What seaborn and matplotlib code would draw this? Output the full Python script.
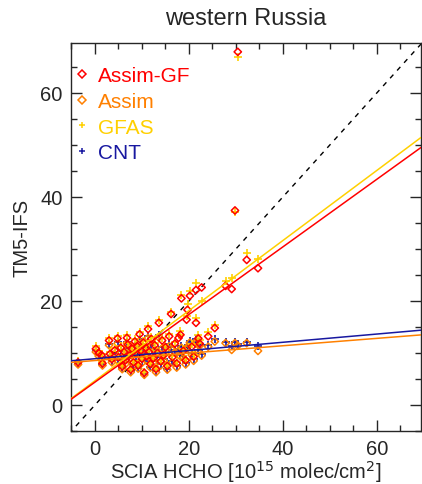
import matplotlib
matplotlib.use("Agg")
import matplotlib.pyplot as plt
import numpy as np
import pandas as pd
import seaborn as sns
from matplotlib.lines import Line2D
from matplotlib.ticker import MultipleLocator

sns.set_style("ticks")
plt.rcParams["font.family"] = ["Liberation Sans", "DejaVu Sans"]

# SCIA HCHO columns and the co-located model values
scia = [-3.6, 0.2, 0.8, 1.4, 1.6, 3.0, 3.2, 3.6, 4.2, 4.8, 5.0, 5.5, 5.8, 6.2, 6.5,
        6.8, 7.0, 7.3, 7.6, 7.9, 8.2, 8.5, 8.7, 9.0, 9.2, 9.5, 9.8, 10.0, 10.3, 10.5,
        10.8, 11.0, 11.3, 11.5, 11.8, 12.0, 12.4, 12.7, 13.0, 13.3, 13.6, 14.0, 14.3,
        14.6, 15.0, 15.4, 15.8, 16.2, 16.5, 17.0, 17.4, 17.8, 18.2, 18.4, 18.8, 19.3,
        19.5, 19.7, 20.2, 20.6, 21.0, 21.5, 21.5, 22.0, 22.3, 22.7, 24.1, 25.5, 27.8,
        29.1, 29.8, 30.4, 32.3, 34.7]
assim_gf = [8.2, 10.8, 10.0, 9.6, 8.0, 12.4, 9.8, 8.8, 10.5, 12.8, 9.2, 11.0, 7.4, 10.2, 8.6,
            12.9, 11.6, 9.5, 6.8, 10.8, 8.2, 12.2, 9.9, 11.3, 7.6, 13.6, 10.5, 8.9, 12.0, 6.2,
            11.0, 9.4, 14.6, 10.2, 7.9, 12.7, 9.0, 11.5, 6.9, 10.0, 15.8, 8.4, 12.4,
            9.6, 11.1, 7.5, 13.2, 17.5, 9.2, 11.8, 8.0, 12.9, 13.5, 20.5, 10.4, 8.6,
            16.4, 18.3, 21.0, 11.2, 9.3, 15.8, 22.1, 12.8, 11.8, 22.6, 13.2, 14.8, 22.9,
            22.3, 37.4, 67.9, 27.9, 26.3]
assim = [7.8, 10.2, 9.4, 8.9, 7.6, 11.5, 9.1, 8.2, 9.8, 11.8, 8.4, 10.1, 6.9, 9.5, 7.9,
         11.9, 10.7, 8.7, 6.3, 9.9, 7.5, 11.1, 9.0, 10.2, 7.0, 12.2, 9.5, 8.1, 10.8, 5.8,
         9.9, 8.5, 12.9, 9.2, 7.2, 11.3, 8.1, 10.3, 6.3, 9.0, 13.0, 7.6, 10.9,
         8.6, 9.9, 6.8, 11.3, 10.8, 8.2, 10.1, 7.2, 10.4, 9.3, 11.0, 9.0, 7.8,
         10.7, 11.2, 12.0, 9.6, 8.5, 11.8, 12.2, 10.2, 11.4, 9.5, 11.2, 12.2, 11.9,
         10.6, 11.9, 11.4, 11.9, 10.4]
gfas = [8.4, 11.3, 10.3, 9.9, 8.2, 12.9, 10.1, 9.0, 10.9, 13.2, 9.5, 11.3, 7.6, 10.6, 8.8,
        13.4, 12.0, 9.8, 7.0, 11.1, 8.4, 12.6, 10.2, 11.6, 7.8, 14.1, 10.8, 9.1, 12.4, 6.4,
        11.4, 9.7, 15.1, 10.5, 8.1, 13.1, 9.3, 11.9, 7.1, 10.3, 16.4, 8.6, 12.9,
        9.9, 11.5, 7.7, 13.7, 17.9, 9.5, 12.2, 8.3, 13.5, 14.2, 21.2, 10.8, 8.9,
        17.2, 19.4, 22.0, 11.7, 9.6, 16.8, 23.5, 13.4, 12.5, 20.0, 14.0, 15.3, 23.9,
        24.4, 37.2, 66.9, 29.2, 28.1]
cnt = [8.0, 10.5, 9.6, 9.2, 7.8, 11.8, 9.3, 8.5, 10.0, 12.1, 8.7, 10.4, 7.1, 9.8, 8.2,
       12.2, 11.0, 9.0, 6.5, 10.2, 7.8, 11.4, 9.3, 10.6, 7.2, 12.6, 9.8, 8.4, 11.1, 6.0,
       10.2, 8.8, 13.2, 9.5, 7.4, 11.6, 8.4, 10.6, 6.5, 9.3, 13.4, 7.9, 11.2,
       8.9, 10.2, 7.0, 11.7, 11.2, 8.5, 10.5, 7.5, 10.8, 9.6, 11.4, 9.4, 8.1,
       11.0, 11.6, 12.4, 10.0, 8.8, 12.2, 12.6, 10.6, 11.8, 9.9, 11.6, 12.6, 12.2,
       11.3, 12.2, 11.8, 12.2, 11.3]

series = ["Assim-GF", "Assim", "GFAS", "CNT"]
colors = {"Assim-GF": "#ff0000", "Assim": "#ff8000", "GFAS": "#ffd000", "CNT": "#1818a0"}
markers = {"Assim-GF": "D", "Assim": "D", "GFAS": "+", "CNT": "+"}
# linear fits (intercept, slope) as drawn in the figure
fit_intercept = {"Assim-GF": 4.4, "Assim": 8.55, "GFAS": 4.66, "CNT": 8.9}
fit_slope = {"Assim-GF": 0.65, "Assim": 0.071, "GFAS": 0.674, "CNT": 0.079}

df = pd.concat([
    pd.DataFrame({"scia": scia, "model": vals, "run": name})
    for name, vals in zip(series, [assim_gf, assim, gfas, cnt])
])

XLIM = (-5.1, 69.4)
YLIM = (-5.0, 69.6)

fig = plt.figure(figsize=(4.22, 4.85), dpi=100)
ax = fig.add_axes([71 / 422, 1 - 432 / 485, 350 / 422, 388 / 485])

# 1:1 line
ax.plot([-10, 80], [-10, 80], color="black", lw=1.0, ls=(0, (3.5, 4)), zorder=1)

for name in ["CNT", "Assim", "GFAS", "Assim-GF"]:
    sub = df[df["run"] == name]
    if markers[name] == "D":
        sns.scatterplot(data=sub, x="scia", y="model", marker="D", s=14,
                        facecolor="none", edgecolor=colors[name], linewidth=1.1,
                        ax=ax, zorder=3)
    else:
        sns.scatterplot(data=sub, x="scia", y="model", marker="+", s=32,
                        color=colors[name], linewidth=1.2, ax=ax, zorder=3)

for name in ["CNT", "Assim", "GFAS", "Assim-GF"]:
    xs = np.array(XLIM)
    sns.lineplot(x=xs, y=fit_intercept[name] + fit_slope[name] * xs,
                 color=colors[name], lw=1.1, ax=ax, zorder=4)

ax.set_xlim(*XLIM)
ax.set_ylim(*YLIM)
ax.xaxis.set_major_locator(MultipleLocator(20))
ax.yaxis.set_major_locator(MultipleLocator(20))
ax.xaxis.set_minor_locator(MultipleLocator(5))
ax.yaxis.set_minor_locator(MultipleLocator(5))
ax.tick_params(which="both", direction="in", top=True, right=True,
               width=1.0, labelsize=14.5, pad=6)
ax.tick_params(which="major", length=8)
ax.tick_params(which="minor", length=4)
for sp in ax.spines.values():
    sp.set_linewidth(1.0)

ax.set_xlabel(r"SCIA HCHO [10$^{15}$ molec/cm$^{2}$]", fontsize=14.5, labelpad=0)
ax.set_ylabel("TM5-IFS", fontsize=14.5, labelpad=6)
ax.set_title("western Russia", fontsize=17, pad=14)

handles = [Line2D([], [], ls="none", marker=markers[n], color=colors[n],
                  markerfacecolor="none", markersize=4.0, markeredgewidth=1.1)
           for n in series]
ax.legend(handles, series, loc="upper left", frameon=False, fontsize=15,
          labelcolor=[colors[n] for n in series], handlelength=0.4,
          handletextpad=0.55, labelspacing=0.32, borderaxespad=0.0,
          borderpad=0.0, bbox_to_anchor=(0.02, 0.94))

fig.savefig("out.png", dpi=100)
